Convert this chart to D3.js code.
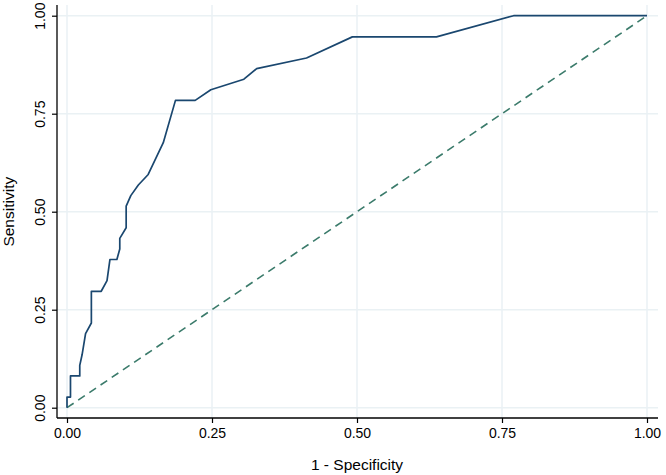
<!DOCTYPE html>
<html>
<head>
<meta charset="utf-8">
<script src="https://cdn.jsdelivr.net/npm/d3@7"></script>
<style>
  body { margin: 0; background: #fff; }
  svg { display: block; font-family: "Liberation Sans", Arial, sans-serif; }
</style>
</head>
<body>
<div id="container"></div>
<script>
/* DATA */
const fpr = [0, 0, 0.006, 0.006, 0.022, 0.022, 0.026, 0.032, 0.042, 0.042, 0.059, 0.069,
  0.074, 0.086, 0.091, 0.091, 0.102, 0.102, 0.110, 0.123, 0.140, 0.166, 0.187, 0.221,
  0.248, 0.305, 0.327, 0.413, 0.492, 0.637, 0.770, 1.0];
const tpr = [0, 0.027, 0.027, 0.081, 0.081, 0.108, 0.135, 0.189, 0.216, 0.297, 0.297, 0.324,
  0.378, 0.378, 0.405, 0.432, 0.459, 0.514, 0.541, 0.568, 0.595, 0.676, 0.784, 0.784,
  0.811, 0.838, 0.865, 0.892, 0.946, 0.946, 1.0, 1.0];
const refLine = [0, 1];
const ticks = [0, 0.25, 0.5, 0.75, 1];

/* CONSTANTS */
const width = 666, height = 475;
const plot = { left: 57, right: 658, top: 5, bottom: 418 };

const rocData = fpr.map((d, i) => ({ x: d, y: tpr[i] }));

// SCALES
const xScale = d3.scaleLinear().domain([0, 1]).range([67, 647]);
const yScale = d3.scaleLinear().domain([0, 1]).range([407.7, 15.7]);

const svg = d3.select("#container")
  .append("svg")
  .attr("width", width)
  .attr("height", height);

// GRID
svg.append("g")
  .selectAll("line")
  .data(ticks)
  .join("line")
  .attr("x1", plot.left).attr("x2", plot.right)
  .attr("y1", d => yScale(d)).attr("y2", d => yScale(d))
  .attr("stroke", "#eaf1f4")
  .attr("stroke-width", 1.5);

svg.append("g")
  .selectAll("line")
  .data(ticks)
  .join("line")
  .attr("y1", plot.top).attr("y2", plot.bottom)
  .attr("x1", d => xScale(d)).attr("x2", d => xScale(d))
  .attr("stroke", "#eaf1f4")
  .attr("stroke-width", 1.5);

// REFERENCE LINE
svg.append("path")
  .datum(refLine)
  .attr("d", d3.line().x(d => xScale(d)).y(d => yScale(d)))
  .attr("fill", "none")
  .attr("stroke", "#3b7b6b")
  .attr("stroke-width", 1.6)
  .attr("stroke-dasharray", "8,5.5");

// ROC CURVE
svg.append("path")
  .datum(rocData)
  .attr("d", d3.line().x(d => xScale(d.x)).y(d => yScale(d.y)))
  .attr("fill", "none")
  .attr("stroke", "#1a476f")
  .attr("stroke-width", 1.7)
  .attr("stroke-linejoin", "round");

// AXES
const xAxis = d3.axisBottom(xScale)
  .tickValues(ticks)
  .tickFormat(d3.format(".2f"))
  .tickSize(5)
  .tickPadding(5);

const xAxisGroup = svg.append("g")
  .attr("transform", `translate(0, ${plot.bottom})`)
  .call(xAxis);
xAxisGroup.select(".domain").remove();
xAxisGroup.append("line")
  .attr("x1", plot.left).attr("x2", plot.right)
  .attr("stroke", "#000").attr("stroke-width", 1.3);

const yAxis = d3.axisLeft(yScale)
  .tickValues(ticks)
  .tickFormat(d3.format(".2f"))
  .tickSize(5)
  .tickPadding(0);

const yAxisGroup = svg.append("g")
  .attr("transform", `translate(${plot.left}, 0)`)
  .call(yAxis);
yAxisGroup.select(".domain").remove();
yAxisGroup.append("line")
  .attr("y1", plot.top).attr("y2", plot.bottom)
  .attr("stroke", "#000").attr("stroke-width", 1.3);
yAxisGroup.selectAll(".tick text")
  .attr("x", 0).attr("dy", null)
  .attr("text-anchor", "middle")
  .attr("transform", "translate(-12, 0) rotate(-90)");

svg.selectAll(".tick line").attr("stroke", "#000").attr("stroke-width", 1.2);
svg.selectAll(".tick text")
  .attr("font-family", "'Liberation Sans', Arial, sans-serif")
  .attr("font-size", 14)
  .attr("fill", "#000");

// AXIS TITLES
svg.append("text")
  .attr("x", (xScale(0) + xScale(1)) / 2)
  .attr("y", 469.5)
  .attr("text-anchor", "middle")
  .attr("font-size", 15.5)
  .text("1 - Specificity");

svg.append("text")
  .attr("transform", `translate(14, ${yScale(0.5)}) rotate(-90)`)
  .attr("text-anchor", "middle")
  .attr("font-size", 15.5)
  .text("Sensitivity");
</script>
</body>
</html>
